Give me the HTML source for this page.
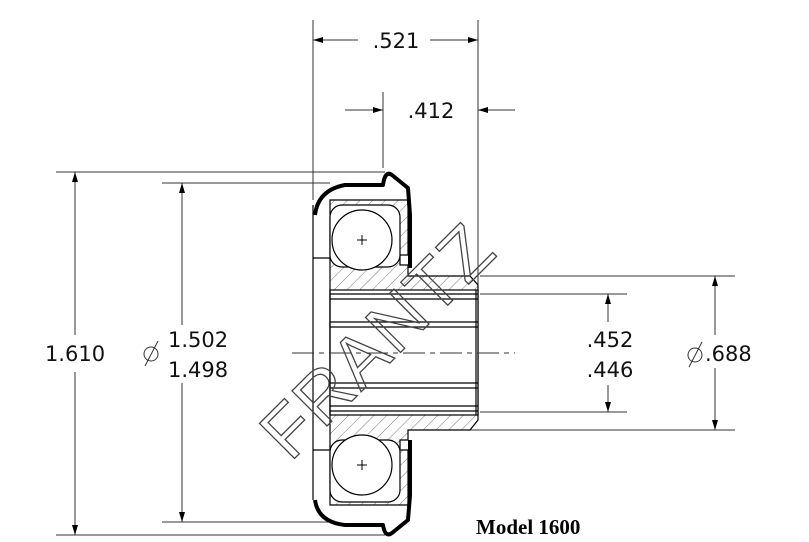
<!DOCTYPE html>
<html><head><style>
html,body{margin:0;padding:0;background:#fff;width:809px;height:542px;overflow:hidden}
svg text{font-family:"DejaVu Sans","Liberation Sans",sans-serif;font-weight:normal}
</style></head><body>
<svg width="809" height="542" viewBox="0 0 809 542" xmlns="http://www.w3.org/2000/svg">
<defs>
<marker id="a" viewBox="0 0 10 10" refX="10" refY="5" markerWidth="10" markerHeight="10" orient="auto-start-reverse" markerUnits="userSpaceOnUse"><path d="M0,2 L10,5 L0,8z" fill="#000"/></marker>
<pattern id="h" width="9" height="9" patternUnits="userSpaceOnUse" patternTransform="rotate(45)"><line x1="0" y1="0" x2="0" y2="9" stroke="#555" stroke-width="0.8"/></pattern>
</defs>
<g stroke="#333" stroke-width="1" fill="none">
<line x1="313" y1="20" x2="313" y2="200"/>
<line x1="478" y1="20" x2="478" y2="285"/>
<line x1="383" y1="92" x2="383" y2="168"/>
<line x1="56" y1="172" x2="385" y2="172"/>
<line x1="56" y1="535" x2="385" y2="535"/>
<line x1="162" y1="183" x2="330" y2="183"/>
<line x1="162" y1="522" x2="330" y2="522"/>
<line x1="480" y1="276" x2="735" y2="276"/>
<line x1="440" y1="430" x2="735" y2="430"/>
<line x1="480" y1="294" x2="627" y2="294"/>
<line x1="480" y1="412" x2="627" y2="412"/>
<line x1="358" y1="40" x2="313" y2="40" marker-end="url(#a)"/>
<line x1="430" y1="40" x2="478" y2="40" marker-end="url(#a)"/>
<line x1="345" y1="110" x2="383" y2="110" marker-end="url(#a)"/>
<line x1="515" y1="110" x2="478" y2="110" marker-end="url(#a)"/>
<line x1="75" y1="335" x2="75" y2="172" marker-end="url(#a)"/>
<line x1="75" y1="372" x2="75" y2="535" marker-end="url(#a)"/>
<line x1="182" y1="325" x2="182" y2="183" marker-end="url(#a)"/>
<line x1="182" y1="382" x2="182" y2="522" marker-end="url(#a)"/>
<line x1="608" y1="322" x2="608" y2="294" marker-end="url(#a)"/>
<line x1="608" y1="385" x2="608" y2="412" marker-end="url(#a)"/>
<line x1="715" y1="335" x2="715" y2="276" marker-end="url(#a)"/>
<line x1="715" y1="368" x2="715" y2="430" marker-end="url(#a)"/>
</g>
<g stroke="#000" stroke-width="1.2">
<path d="M330,200 L408,200 L408,255 L400,255 L400,265 L408,265 L408,276 L470,276 L478,285 L478,420 L470,430 L408,430 L408,440 L400,440 L400,450 L408,450 L408,505 L330,505 Z" fill="url(#h)"/>
<rect x="330" y="290" width="148" height="125" fill="#fff"/>
<g fill="none">
<line x1="330" y1="294" x2="478" y2="294"/><line x1="330" y1="299" x2="478" y2="299"/>
<line x1="330" y1="322" x2="478" y2="322"/><line x1="330" y1="327" x2="478" y2="327"/>
<line x1="330" y1="383" x2="478" y2="383"/><line x1="330" y1="388" x2="478" y2="388"/>
<line x1="330" y1="406" x2="478" y2="406"/><line x1="330" y1="411" x2="478" y2="411"/>
<line x1="330" y1="290" x2="330" y2="415"/><line x1="476" y1="290" x2="476" y2="415"/>
</g>
<rect x="330" y="205" width="70" height="62" rx="12" fill="#fff"/>
<rect x="330" y="440" width="70" height="62" rx="12" fill="#fff"/>
<circle cx="362" cy="240" r="30" fill="#fff"/>
<circle cx="362" cy="465" r="30" fill="#fff"/>
<path d="M313,258 L330,258 M313,450 L330,450" fill="none"/>
<path d="M313,205 L313,500" fill="none"/>
</g>
<line x1="292" y1="353" x2="515" y2="353" stroke="#333" stroke-width="1" stroke-dasharray="22,5,5,5"/>
<g stroke="#000" stroke-width="1" fill="none">
<path d="M357,240h10M362,235v10M357,465h10M362,460v10"/>
</g>
<g stroke="#000" stroke-width="4" fill="none" stroke-linejoin="round">
<path d="M315,215 Q318,190 345,185 L383,185 Q385,170 392,175 L408,188 L410,215 L410,268"/>
<path d="M315,500 Q318,522 345,525 L383,525 Q385,538 392,533 L408,520 L410,495 L410,440"/>
</g>
<text x="0" y="0" transform="translate(395,358) rotate(-45)" text-anchor="middle" font-size="72" fill="none" stroke="#444" stroke-width="1.3" style="font-family:'Liberation Sans',sans-serif;letter-spacing:2px">FRANTZ</text>
<g font-size="21" fill="#111">
<text x="396" y="48" text-anchor="middle">.521</text>
<text x="431" y="118" text-anchor="middle">.412</text>
<rect x="55" y="338" width="42" height="30" fill="#fff"/>
<text x="75" y="361" text-anchor="middle">1.610</text>
<rect x="160" y="325" width="45" height="58" fill="#fff"/>
<text x="168" y="347">1.502</text>
<text x="168" y="377">1.498</text>
<text x="610" y="347" text-anchor="middle">.452</text>
<text x="610" y="377" text-anchor="middle">.446</text>
<rect x="690" y="340" width="50" height="26" fill="#fff"/>
<text x="705" y="361">.688</text>
</g>
<g stroke="#333" stroke-width="1" fill="none">
<circle cx="151" cy="354" r="7"/><line x1="145" y1="366" x2="158" y2="341"/>
<circle cx="695" cy="355" r="7"/><line x1="689" y1="367" x2="702" y2="342"/>
</g>
<text x="476" y="534" font-size="21" style="font-family:'Liberation Serif',serif;font-weight:bold">Model 1600</text>
</svg>
</body></html>
